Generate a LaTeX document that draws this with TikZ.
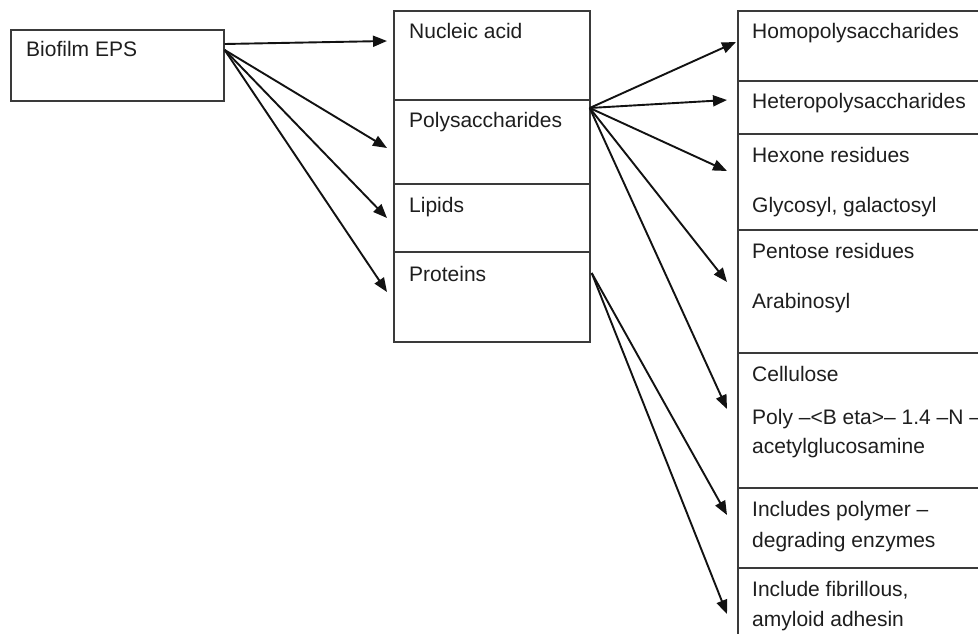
\documentclass[tikz,border=0pt]{standalone}
\usepackage{fontspec}
\setmainfont{Liberation Sans}
\usetikzlibrary{arrows.meta}
\definecolor{boxgray}{HTML}{3A3A3A}
\definecolor{txt}{HTML}{1E1E1E}
\begin{document}
\begin{tikzpicture}[x=1pt,y=-1pt,
  box/.style={draw=boxgray, line width=1.7pt, inner sep=0pt, anchor=north west},
  lbl/.style={anchor=base west, inner sep=0pt, font=\fontsize{21}{25}\selectfont, text=txt},
  arr/.style={draw=black!93, line width=1.9pt, -{Triangle[length=14pt,width=11pt]}}
]
\useasboundingbox (0,0) rectangle (978,634);
\clip (0,0) rectangle (978,634);
\fill[white] (0,0) rectangle (978,634);

% boxes
\node[box, minimum width=213pt, minimum height=71pt] (bio) at (10,29) {};
\node[box, minimum width=196pt, minimum height=89pt] (nuc) at (393,10) {};
\node[box, minimum width=196pt, minimum height=84pt] (poly) at (393,99) {};
\node[box, minimum width=196pt, minimum height=68pt] (lip) at (393,183) {};
\node[box, minimum width=196pt, minimum height=90pt] (prot) at (393,251) {};
\node[box, minimum width=263pt, minimum height=70pt] (homo) at (737,10) {};
\node[box, minimum width=263pt, minimum height=53pt] (hetero) at (737,80) {};
\node[box, minimum width=263pt, minimum height=96pt] (hexone) at (737,133) {};
\node[box, minimum width=263pt, minimum height=123pt] (pent) at (737,229) {};
\node[box, minimum width=263pt, minimum height=135pt] (cell) at (737,352) {};
\node[box, minimum width=263pt, minimum height=80pt] (incp) at (737,487) {};
\node[box, minimum width=263pt, minimum height=90pt] (incf) at (737,567) {};

% texts
\node[lbl] (tbio) at (26,57) {Biofilm EPS};
\node[lbl] (tnuc) at (409,39) {Nucleic acid};
\node[lbl] (tpoly) at (409,128) {Polysaccharides};
\node[lbl] (tlip) at (409,212) {Lipids};
\node[lbl] (tprot) at (409,281) {Proteins};
\node[lbl] (thomo) at (752,39) {Homopolysaccharides};
\node[lbl] (thet) at (752,109) {Heteropolysaccharides};
\node[lbl] (thex) at (752,162) {Hexone residues};
\node[lbl] (tgly) at (752,212) {Glycosyl, galactosyl};
\node[lbl] (tpen) at (752,258) {Pentose residues};
\node[lbl] (tara) at (752,308) {Arabinosyl};
\node[lbl] (tcel) at (752,381) {Cellulose};
\node[lbl] (tpolyb) at (752,424) {Poly --<B eta>-- 1.4 --N --};
\node[lbl] (tacet) at (752,453) {acetylglucosamine};
\node[lbl] (tinc1) at (752,516) {Includes polymer --};
\node[lbl] (tinc2) at (752,547) {degrading enzymes};
\node[lbl] (tfib1) at (752,596) {Include fibrillous,};
\node[lbl] (tfib2) at (752,626) {amyloid adhesin};

% arrows from Biofilm EPS
\draw[arr] ([yshift=-15pt]bio.north east) -- ([xshift=-6pt,yshift=-31pt]nuc.north west);
\draw[arr] ([yshift=-21pt]bio.north east) -- ([xshift=-6pt,yshift=-49pt]poly.north west);
\draw[arr] ([yshift=-21pt]bio.north east) -- ([xshift=-6pt,yshift=-35pt]lip.north west);
\draw[arr] ([yshift=-21pt]bio.north east) -- ([xshift=-6pt,yshift=-41pt]prot.north west);

% arrows from Polysaccharides
\draw[arr] ([xshift=-1pt,yshift=-9pt]poly.north east) -- ([xshift=-1pt,yshift=-32pt]homo.north west);
\draw[arr] ([xshift=-1pt,yshift=-9pt]poly.north east) -- ([xshift=-10pt,yshift=-20pt]hetero.north west);
\draw[arr] ([xshift=-1pt,yshift=-9pt]poly.north east) -- ([xshift=-10pt,yshift=-38pt]hexone.north west);
\draw[arr] ([xshift=-1pt,yshift=-9pt]poly.north east) -- ([xshift=-10pt,yshift=-53pt]pent.north west);
\draw[arr] ([xshift=-1pt,yshift=-9pt]poly.north east) -- ([xshift=-10pt,yshift=-57pt]cell.north west);

% arrows from Proteins
\draw[arr] ([xshift=1pt,yshift=-22pt]prot.north east) -- ([xshift=-10pt,yshift=-28pt]incp.north west);
\draw[arr] ([xshift=1pt,yshift=-22pt]prot.north east) -- ([xshift=-10pt,yshift=-47pt]incf.north west);
\end{tikzpicture}
\end{document}
